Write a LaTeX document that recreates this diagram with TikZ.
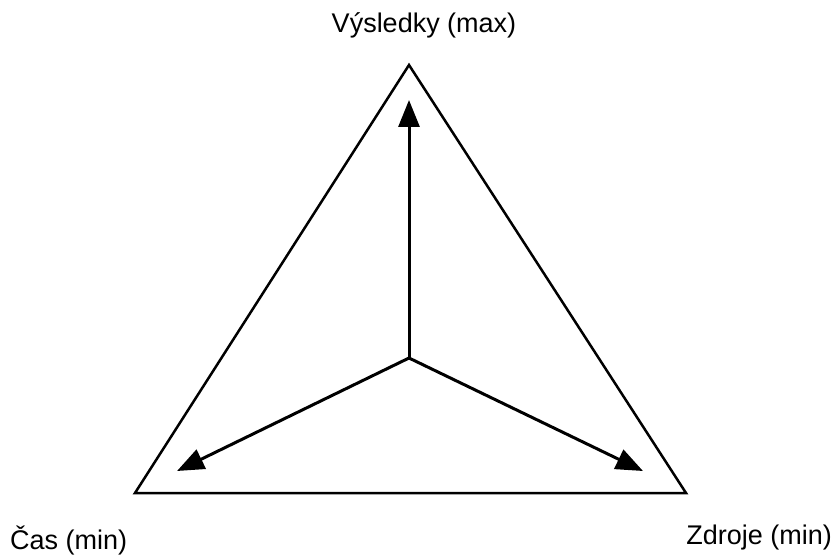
\documentclass[tikz,border=0pt]{standalone}
\usepackage{fontspec}
\setmainfont{Liberation Sans}
\usetikzlibrary{arrows.meta,calc}
\tikzset{
  x=1pt, y=-1pt,
  edge/.style  ={draw=black, line width=2.5pt, line join=miter},
  goal/.style  ={-{Triangle[length=27pt,width=21pt]}, draw=black, line width=3pt},
  lbl/.style   ={font=\fontsize{27}{32}\selectfont, inner sep=0pt},
}
\begin{document}
\begin{tikzpicture}
  \useasboundingbox (0,0) rectangle (834,556);
  % corners of the triangle
  \coordinate (top) at (409,65);
  \coordinate (left) at (135,493);
  \coordinate (right) at (686,493);
  \coordinate (mid) at (409,358);
  \coordinate (topend) at (409,100);
  \coordinate (leftend) at (177,471);
  \coordinate (rightend) at (643,471);
  \draw[edge] (top) -- (left) -- (right) -- cycle;
  \draw[goal] (mid) -- (topend);
  \draw[goal] (mid) -- (leftend);
  \draw[goal] (mid) -- (rightend);
  \node[lbl] (vysl) at (424,25) {Výsledky (max)};
  \node[lbl,anchor=west] (cas) at (10,540) {Čas (min)};
  \node[lbl,anchor=east] (zdroje) at (832,538) {Zdroje (min)};
\end{tikzpicture}
\end{document}
